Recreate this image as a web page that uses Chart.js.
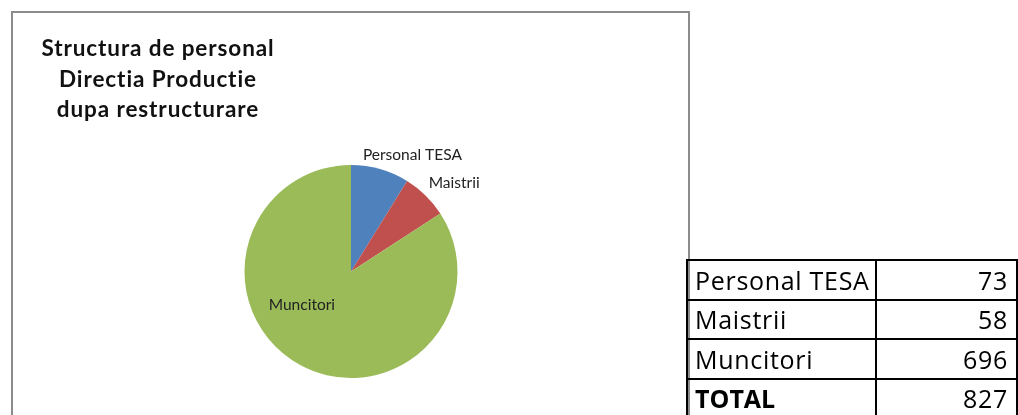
<!DOCTYPE html>
<html>
<head>
<meta charset="utf-8">
<script src="https://cdn.jsdelivr.net/npm/chart.js@4/dist/chart.umd.min.js"></script>
<style>
  html, body { margin: 0; padding: 0; background: #fff; }
  body { width: 1018px; height: 415px; position: relative; overflow: hidden; }
  #chartBox {
    position: absolute; left: 11px; top: 11px; width: 679px; height: 420px;
    border: 2px solid #8c8c8c; box-sizing: border-box;
  }
  #chartTitle {
    position: absolute; left: 14px; top: 20px; width: 262px;
    font-family: Lato, "Noto Sans", sans-serif; font-weight: bold; font-size: 22.5px;
    letter-spacing: 0.9px; font-variant-ligatures: none;
    line-height: 30.5px; text-align: center; color: #111;
  }
  #pie { position: absolute; left: 0; top: 0; }
  #dataTable {
    position: absolute; left: 686px; top: 259px;
    border-collapse: collapse;
    font-family: "Open Sans", sans-serif; font-size: 25px; letter-spacing: 0.7px; color: #000;
  }
  #dataTable td {
    border: 2px solid #000; height: 37.5px; padding: 0; line-height: 26px; white-space: nowrap;
  }
  #dataTable td.name { width: 180px; padding-left: 7px; padding-right: 1px; }
  #dataTable td.val { width: 140px; text-align: right; padding-right: 8px; }
  #dataTable tr.total td.name { font-weight: bold; letter-spacing: 0; }
</style>
</head>
<body>
<div id="chartBox">
  <canvas id="pie" width="675" height="402"></canvas>
  <div id="chartTitle">Structura de personal<br>Directia Productie<br>dupa restructurare</div>
</div>
<table id="dataTable"></table>

<script>
const categories = ["Personal TESA", "Maistrii", "Muncitori"];
const headcount = [73, 58, 696];
const sliceColors = ["#4F81BD", "#C0504D", "#9BBB59"];
const totalLabel = "TOTAL";

// table next to the chart
const table = document.getElementById("dataTable");
categories.forEach((name, i) => {
  const tr = document.createElement("tr");
  tr.innerHTML = `<td class="name">${name}</td><td class="val">${headcount[i]}</td>`;
  table.appendChild(tr);
});
const totalRow = document.createElement("tr");
totalRow.className = "total";
totalRow.innerHTML = `<td class="name">${totalLabel}</td><td class="val">${headcount.reduce((a, b) => a + b, 0)}</td>`;
table.appendChild(totalRow);

// Excel-like labels: small slices outside, big one inside
const sliceLabels = {
  id: "sliceLabels",
  afterDatasetsDraw(chart) {
    const ctx = chart.ctx;
    const meta = chart.getDatasetMeta(0);
    const total = headcount.reduce((a, b) => a + b, 0);
    ctx.save();
    ctx.font = "15.5px Lato, 'Noto Sans', sans-serif";
    ctx.fillStyle = "#222";
    ctx.textBaseline = "alphabetic";
    meta.data.forEach((arc, i) => {
      const p = arc.getProps(["x", "y", "startAngle", "endAngle", "outerRadius"], true);
      const mid = (p.startAngle + p.endAngle) / 2;
      const label = chart.data.labels[i];
      const w = ctx.measureText(label).width;
      if (headcount[i] / total < 0.2) {
        const r = p.outerRadius + 6;
        const px = p.x + Math.cos(mid) * r;
        const py = p.y + Math.sin(mid) * r;
        const shift = Math.max(0, 0.3 * (1 - Math.cos(mid) / 0.75));
        ctx.textAlign = "left";
        ctx.fillText(label, px - w * shift, py - 3);
      } else {
        const r = p.outerRadius * 0.56;
        ctx.textAlign = "center";
        ctx.fillText(label, p.x + Math.cos(mid + 0.47) * r, p.y + Math.sin(mid + 0.47) * r + 5);
      }
    });
    ctx.restore();
  }
};

new Chart(document.getElementById("pie"), {
  type: "pie",
  data: {
    labels: categories,
    datasets: [{
      data: headcount,
      backgroundColor: sliceColors,
      borderWidth: 0
    }]
  },
  options: {
    responsive: false,
    animation: false,
    layout: { padding: { left: 231, right: 230, top: 152, bottom: 37 } },
    plugins: {
      legend: { display: false },
      tooltip: { enabled: false },
      title: { display: false }
    }
  },
  plugins: [sliceLabels]
});
</script>
</body>
</html>
